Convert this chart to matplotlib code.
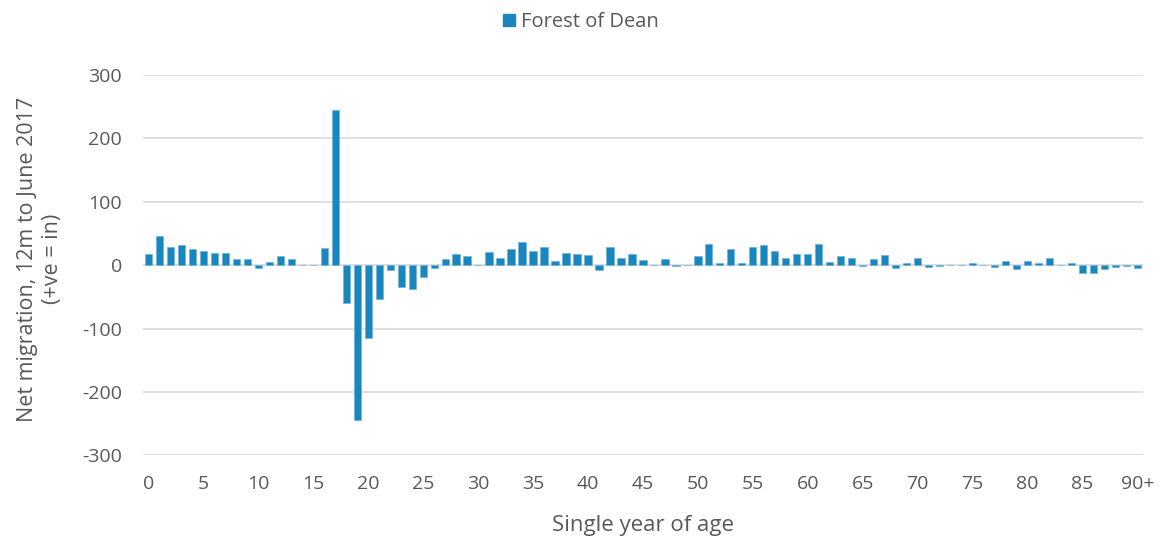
import matplotlib
matplotlib.use("Agg")
import matplotlib.pyplot as plt
from matplotlib.patches import Patch

ages = list(range(91))
values = [18, 46, 28, 31, 25, 22, 19, 19, 10, 10,
          -4, 5, 14, 10, 1, 0, 27, 245, -60, -244,
          -115, -54, -7, -35, -37, -19, -5, 10, 17, 15,
          1, 20, 11, 26, 36, 22, 28, 6, 19, 18,
          16, -8, 28, 11, 18, 8, 0, 9, -2, 0,
          15, 34, 4, 25, 3, 29, 31, 22, 12, 18,
          17, 33, 5, 14, 12, -2, 9, 16, -5, 3,
          11, -3, -2, 0, 0, 3, 0, -3, 6, -6,
          6, 3, 11, 0, 3, -12, -12, -6, -3, -2,
          -4]
tick_pos = list(range(0, 91, 5))
tick_labels = [str(t) for t in range(0, 90, 5)] + ["90+"]
series_name = "Forest of Dean"
yticks = [-300, -200, -100, 0, 100, 200, 300]

plt.rcParams['font.family'] = ['Open Sans', 'DejaVu Sans']
fig = plt.figure(figsize=(11.62, 5.40), dpi=100)
ax = fig.add_axes([0.123, 0.157, 0.8606, 0.704])

color = "#1a86be"
ax.bar(ages, values, width=0.66, color=color, edgecolor="#6fb3dc", linewidth=0.5, zorder=3)

ax.set_xlim(-0.5, 90.5)
ax.set_ylim(-300, 300)
ax.set_yticks(yticks)
ax.set_yticklabels([str(v) for v in yticks])
ax.set_xticks(tick_pos)
ax.set_xticklabels(tick_labels)
ax.tick_params(axis='both', length=0, labelsize=14, labelcolor="#595959")
ax.tick_params(axis='y', pad=15)
ax.tick_params(axis='x', pad=14)
ax.grid(axis='y', color="#d9d9d9", linewidth=1.2, zorder=0)
for s in ax.spines.values():
    s.set_visible(False)

fig.text(643 / 1162, 1 - 525 / 540, "Single year of age", fontsize=16, color="#595959",
         ha='center', va='center')
fig.text(40 / 1162, 1 - 259 / 540, "Net migration, 12m to June 2017\n(+ve = in)", fontsize=15.5,
         color="#595959", ha='center', va='center', rotation=90, linespacing=1.25,
         multialignment='center')

handles = [Patch(facecolor=color, edgecolor=color, label=series_name)]
fig.legend(handles=handles, loc='center', bbox_to_anchor=(0.5, 1 - 22 / 540), frameon=False,
           fontsize=14.5, labelcolor="#595959", handlelength=0.6, handleheight=0.6,
           handletextpad=0.3)

fig.savefig("out.png", dpi=100)
